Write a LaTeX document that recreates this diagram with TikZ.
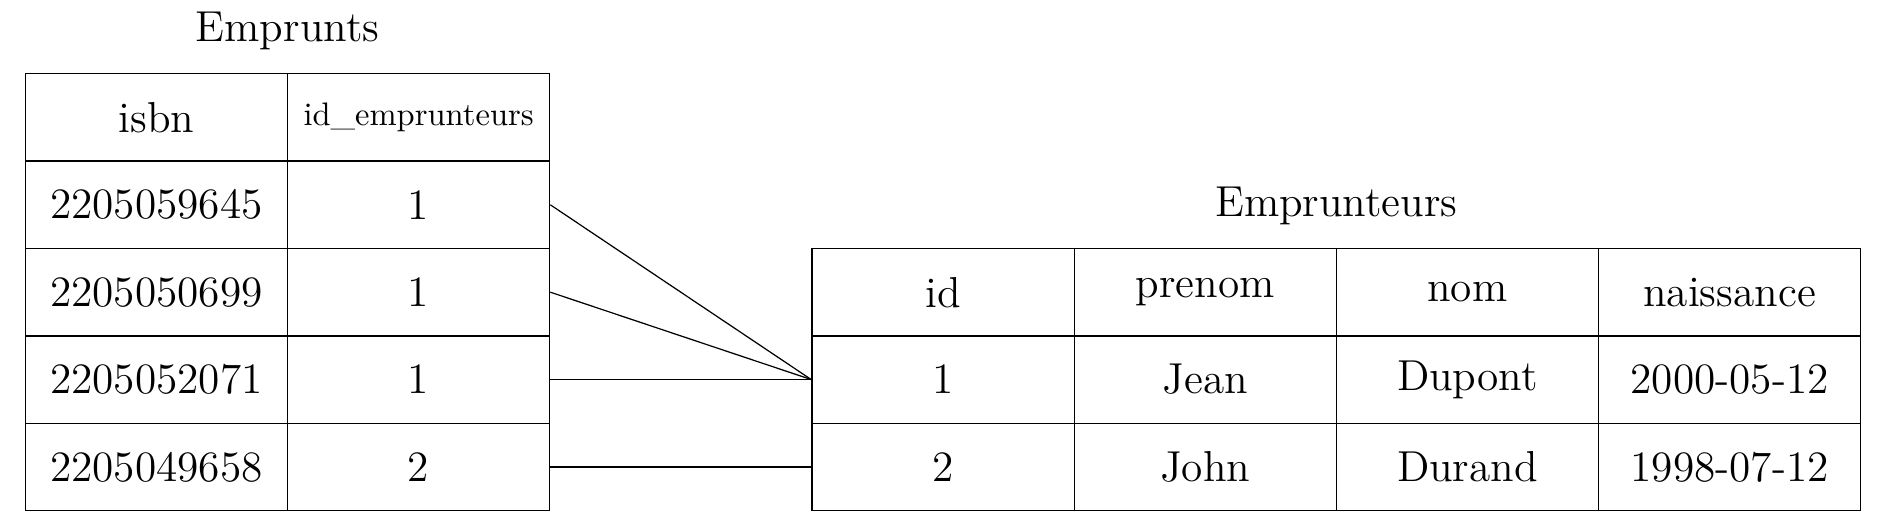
\documentclass[tikz,border=0pt]{standalone}
\begin{document}
\begin{tikzpicture}[
  cell/.style={draw, minimum width=3cm, minimum height=1cm, inner sep=0pt, font=\fontsize{14.1}{17}\selectfont},
  smallcell/.style={cell, font=\fontsize{10.6}{13}\selectfont},
  title/.style={anchor=base, inner sep=0pt, font=\fontsize{14.1}{17}\selectfont},
  link/.style={draw}
]
\useasboundingbox (-0.2895,-0.2437) rectangle (21.358,5.843);
% Emprunts table
\node[title] (t1) at (3,5.37) {Emprunts};
\node[cell] (e00) at (1.5,4.5) {isbn};
\node[smallcell] (e01) at (4.5,4.5) {id\_emprunteurs};
\node[cell] (e10) at (1.5,3.5) {2205059645};
\node[cell] (e11) at (4.5,3.5) {1};
\node[cell] (e20) at (1.5,2.5) {2205050699};
\node[cell] (e21) at (4.5,2.5) {1};
\node[cell] (e30) at (1.5,1.5) {2205052071};
\node[cell] (e31) at (4.5,1.5) {1};
\node[cell] (e40) at (1.5,0.5) {2205049658};
\node[cell] (e41) at (4.5,0.5) {2};
% Emprunteurs table
\node[title] (t2) at (15,3.37) {Emprunteurs};
\node[cell] (p00) at (10.5,2.5) {id};
\node[cell] (p01) at (13.5,2.5) {prenom};
\node[cell] (p02) at (16.5,2.5) {nom};
\node[cell] (p03) at (19.5,2.5) {naissance};
\node[cell] (p10) at (10.5,1.5) {1};
\node[cell] (p11) at (13.5,1.5) {Jean};
\node[cell] (p12) at (16.5,1.5) {Dupont};
\node[cell] (p13) at (19.5,1.5) {2000-05-12};
\node[cell] (p20) at (10.5,0.5) {2};
\node[cell] (p21) at (13.5,0.5) {John};
\node[cell] (p22) at (16.5,0.5) {Durand};
\node[cell] (p23) at (19.5,0.5) {1998-07-12};
% links
\draw[link] (e11.east) -- (p10.west);
\draw[link] (e21.east) -- (p10.west);
\draw[link] (e31.east) -- (p10.west);
\draw[link] (e41.east) -- (p20.west);
\end{tikzpicture}
\end{document}
